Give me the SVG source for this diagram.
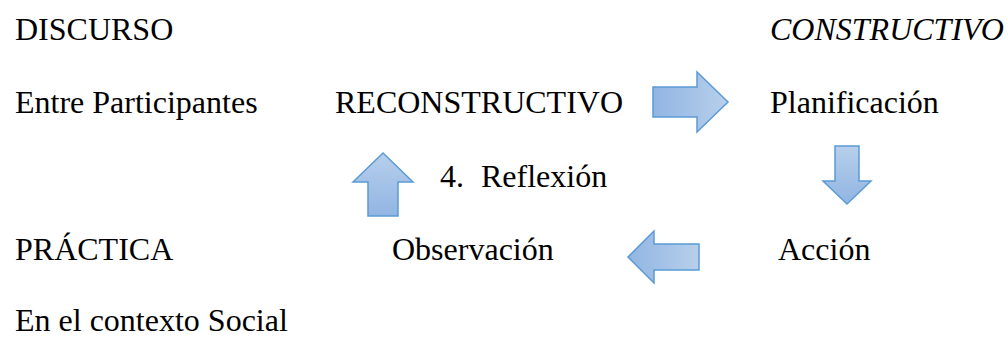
<svg xmlns="http://www.w3.org/2000/svg" width="1008" height="337" viewBox="0 0 1008 337">
<defs>
<linearGradient id="gH" x1="0" y1="0" x2="1" y2="0"><stop offset="0" stop-color="#91b5e3"/><stop offset="1" stop-color="#b7cfeb"/></linearGradient>
<linearGradient id="gV" x1="0" y1="0" x2="0" y2="1"><stop offset="0" stop-color="#b7cfeb"/><stop offset="1" stop-color="#91b5e3"/></linearGradient>
</defs>
<g font-family="Liberation Serif, Times New Roman, serif" font-size="32" fill="#000">
<g id="discurso"><text x="15" y="40">DISCURSO</text></g>
<g id="constructivo"><text font-style="italic" x="770" y="40">CONSTRUCTIVO</text></g>
<g id="entre"><text x="15" y="113">Entre Participantes</text></g>
<g id="reconstructivo"><text x="335" y="113">RECONSTRUCTIVO</text></g>
<g id="planificacion"><text x="770" y="113">Planificación</text></g>
<g id="reflexion"><text x="440" y="187">4.</text><text x="481" y="187">Reflexión</text></g>
<g id="practica"><text x="15" y="260">PRÁCTICA</text></g>
<g id="observacion"><text x="392" y="260">Observación</text></g>
<g id="accion"><text x="778" y="260">Acción</text></g>
<g id="contexto"><text x="15" y="331">En el contexto Social</text></g>
</g>
<g id="connectors" stroke="#5b9bd5" stroke-width="1.5">
<path fill="url(#gH)" d="M653,87 H697 V72 L728,102 L697,132 V117 H653 Z"/>
<path fill="url(#gV)" d="M835,146 H859 V181 H871 L847,204 L823,181 H835 Z"/>
<path fill="url(#gH)" d="M699,244 H654 V231 L628,257 L654,283 V270 H699 Z"/>
<path fill="url(#gV)" d="M368,216 V182 H353 L383,153 L413,182 H398 V216 Z"/>
</g>
</svg>
